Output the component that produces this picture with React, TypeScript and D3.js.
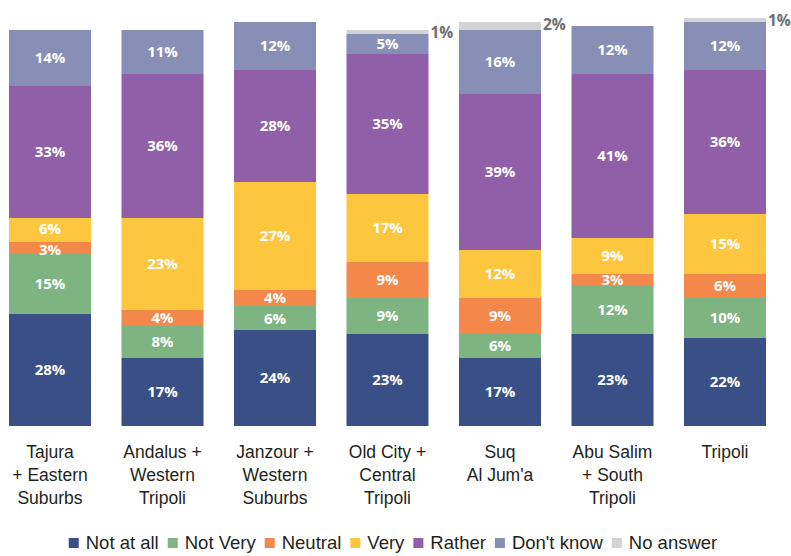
import React, { useEffect, useRef } from "react";
import * as d3 from "d3";

// districts (line breaks as in the original)
const categories = [
  "Tajura\n+ Eastern\nSuburbs",
  "Andalus +\nWestern\nTripoli",
  "Janzour +\nWestern\nSuburbs",
  "Old City +\nCentral\nTripoli",
  "Suq\nAl Jum'a",
  "Abu Salim\n+ South\nTripoli",
  "Tripoli",
];

const seriesNames = ["Not at all", "Not Very", "Neutral", "Very", "Rather", "Don't know", "No answer"];
const seriesColors = ["#3a4f86", "#7db482", "#f4874a", "#fdc63f", "#8f5fa7", "#878fb6", "#d3d3d3"];

const notAtAll = [28, 17, 24, 23, 17, 23, 22];
const notVery = [15, 8, 6, 9, 6, 12, 10];
const neutral = [3, 4, 4, 9, 9, 3, 6];
const very = [6, 23, 27, 17, 12, 9, 15];
const rather = [33, 36, 28, 35, 39, 41, 36];
const dontKnow = [14, 11, 12, 5, 16, 12, 12];
const noAnswer = [0, 0, 0, 1, 2, 0, 1];

const App = () => {
  const svgRef = useRef<SVGSVGElement>(null);

  useEffect(() => {
    const values = [notAtAll, notVery, neutral, very, rather, dontKnow, noAnswer];
    const fs = 15;

    // table for d3.stack
    const rows = categories.map((c, i) => {
      const r: any = { cat: c };
      seriesNames.forEach((s, k) => (r[s] = values[k][i]));
      return r;
    });
    const stacked = d3.stack().keys(seriesNames)(rows);

    const svg = d3.select(svgRef.current);
    svg.selectAll("*").remove();

    const x = d3.scaleBand().domain(categories).range([9, 766]).paddingInner(0.271).paddingOuter(0);
    const y = d3.scaleLinear().domain([0, 100]).range([426, 26]);

    const layers = svg
      .selectAll("g.layer")
      .data(stacked)
      .enter()
      .append("g")
      .attr("class", "layer")
      .attr("fill", (_d, i) => seriesColors[i]);

    layers
      .selectAll("rect")
      .data((d) => d.filter((p) => p[1] - p[0] > 0))
      .enter()
      .append("rect")
      .attr("x", (d: any) => x(d.data.cat)!)
      .attr("width", x.bandwidth())
      .attr("y", (d) => y(d[1]))
      .attr("height", (d) => y(d[0]) - y(d[1]));

    // inside labels per bar, nudged apart where small segments crowd them
    const minGap = fs * 1.37 + 0.5;
    categories.forEach((c, i) => {
      const labels: { v: number; cy: number }[] = [];
      stacked.forEach((layer, k) => {
        if (seriesNames[k] === "No answer") return;
        const p = layer[i];
        const v = p[1] - p[0];
        if (v > 0) labels.push({ v, cy: (y(p[0]) + y(p[1])) / 2 });
      });
      for (let iter = 0; iter < 10; iter++) {
        for (let j = 1; j < labels.length; j++) {
          const d = labels[j - 1].cy - labels[j].cy;
          if (d < minGap) {
            const push = (minGap - d) / 2;
            labels[j - 1].cy += push;
            labels[j].cy -= push;
          }
        }
      }
      labels.forEach((l) => {
        svg
          .append("text")
          .attr("x", x(c)! + x.bandwidth() / 2)
          .attr("y", l.cy)
          .attr("dy", "0.36em")
          .attr("text-anchor", "middle")
          .attr("fill", "#fff")
          .attr("font-family", "'Open Sans', sans-serif")
          .attr("font-weight", 700)
          .attr("font-size", fs)
          .text(`${l.v}%`);
      });
    });

    // no answer labels sit outside, right of the bar top
    const na = stacked[seriesNames.indexOf("No answer")];
    na.forEach((p: any) => {
      const v = p[1] - p[0];
      if (v <= 0) return;
      svg
        .append("text")
        .attr("x", x(p.data.cat)! + x.bandwidth() + 2)
        .attr("y", y(p[1]) + 2)
        .attr("dy", "0.36em")
        .attr("fill", "#6d6e71")
        .attr("font-family", "'Open Sans', sans-serif")
        .attr("font-weight", 700)
        .attr("font-size", fs + 0.5)
        .text(`${v}%`);
    });

    // category labels
    categories.forEach((c) => {
      const t = svg
        .append("text")
        .attr("text-anchor", "middle")
        .attr("fill", "#231f20")
        .attr("font-family", "'Liberation Sans', Arial, sans-serif")
        .attr("font-size", 17.5);
      c.split("\n").forEach((line, i) => {
        t.append("tspan")
          .attr("x", x(c)! + x.bandwidth() / 2)
          .attr("y", 458 + i * 23)
          .text(line);
      });
    });

    // legend, packed by measured text widths
    const legend = svg.append("g");
    let cx = 0;
    const gap = 9;
    seriesNames.forEach((s, i) => {
      const g = legend.append("g").attr("transform", `translate(${cx},0)`);
      g.append("rect").attr("x", 0).attr("y", -5).attr("width", 10).attr("height", 10).attr("fill", seriesColors[i]);
      const t = g
        .append("text")
        .attr("x", 17)
        .attr("y", 0)
        .attr("dy", "0.35em")
        .attr("fill", "#231f20")
        .attr("font-family", "'Liberation Sans', Arial, sans-serif")
        .attr("font-size", 18.5)
        .text(s);
      const w = (t.node() as SVGTextElement).getComputedTextLength();
      cx += 17 + w + gap;
    });
    const total = cx - gap;
    legend.attr("transform", `translate(${393 - total / 2},543)`);
  }, []);

  return (
    <svg
      ref={svgRef}
      width={791}
      height={556}
      style={{ position: "absolute", left: 0, top: 0, background: "#fff" }}
    ></svg>
  );
};

export default App;
